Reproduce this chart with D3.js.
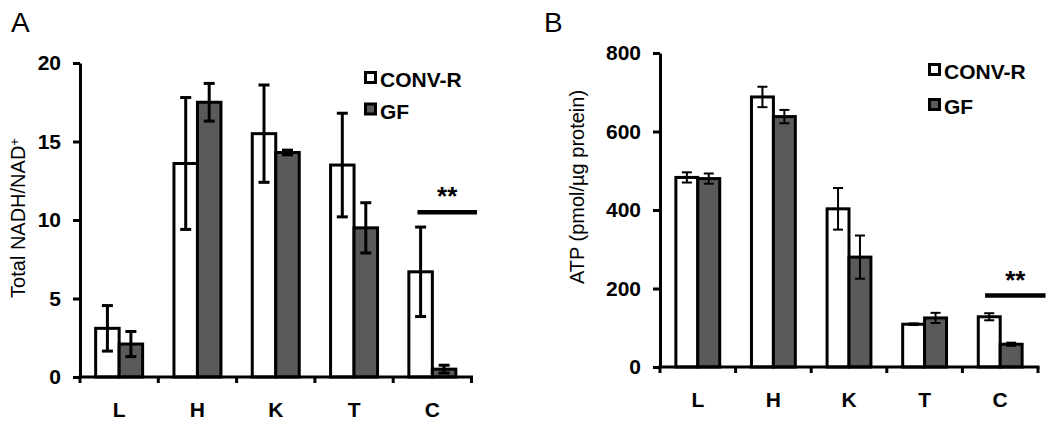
<!DOCTYPE html>
<html><head><meta charset="utf-8">
<script src="https://cdn.jsdelivr.net/npm/d3@7"></script>
<style>
html,body{margin:0;padding:0;background:#fff;}
svg{display:block;font-family:"Liberation Sans",Arial,sans-serif;}
</style></head>
<body>
<svg id="chart" width="1050" height="431"></svg>
<script>
// ---- data ----
const categories = ["L","H","K","T","C"];
const seriesNames = ["CONV-R","GF"];
const nadConv    = [3.1, 13.6, 15.5, 13.5, 6.7];
const nadConvErr = [1.45, 4.2, 3.1, 3.3, 2.85];
const nadGF      = [2.1, 17.5, 14.3, 9.5, 0.5];
const nadGFErr   = [0.8, 1.2, 0.15, 1.6, 0.25];
const atpConv    = [483, 688, 403, 109, 128];
const atpConvErr = [13, 26, 53, 2, 9];
const atpGF      = [480, 638, 280, 125, 58];
const atpGFErr   = [13, 17, 55, 13, 4];
const nadTicks = [0, 5, 10, 15, 20];
const atpTicks = [0, 200, 400, 600, 800];
const nadSigLevel = 10.5;   // level of the significance line
const atpSigLevel = 182;

const svg = d3.select("#chart");
const GREY = "#5a5a5a";

function panel(o) {
  const g = svg.append("g");
  const y = d3.scaleLinear().domain(o.domain).range([o.y0, o.y1]);
  const x = d3.scaleBand().domain(categories).range([o.x0, o.x1]).padding(0);
  const bw = x.bandwidth();
  const xs = d3.scaleBand().domain(seriesNames).range([bw * o.inner, bw * (1 - o.inner)]).padding(0);

  const rows = categories.map((c, i) => ({c, vals: [
    {s: "CONV-R", v: o.conv[i], e: o.convErr[i]},
    {s: "GF", v: o.gf[i], e: o.gfErr[i]}]}));

  const grp = g.selectAll("g.cat").data(rows).join("g")
    .attr("transform", d => `translate(${x(d.c)},0)`);

  grp.selectAll("rect").data(d => d.vals).join("rect")
    .attr("x", d => xs(d.s)).attr("width", xs.bandwidth())
    .attr("y", d => y(d.v)).attr("height", d => y(0) - y(d.v))
    .attr("fill", d => d.s === "GF" ? GREY : "#fff")
    .attr("stroke", "#000").attr("stroke-width", 3);

  const eb = grp.selectAll("g.err").data(d => d.vals).join("g")
    .attr("transform", d => `translate(${xs(d.s) + xs.bandwidth() / 2},0)`)
    .attr("stroke", "#000").attr("stroke-width", o.errW);
  eb.append("line").attr("y1", d => y(d.v + d.e)).attr("y2", d => y(d.v - d.e));
  eb.append("line").attr("x1", -o.cap / 2).attr("x2", o.cap / 2)
    .attr("y1", d => y(d.v + d.e)).attr("y2", d => y(d.v + d.e));
  eb.append("line").attr("x1", -o.cap / 2).attr("x2", o.cap / 2)
    .attr("y1", d => y(d.v - d.e)).attr("y2", d => y(d.v - d.e));

  // y axis
  const ya = g.append("g").attr("transform", `translate(${o.x0},0)`)
    .call(d3.axisLeft(y).tickValues(o.ticks).tickSize(7).tickPadding(12).tickSizeOuter(0));
  ya.select(".domain").attr("stroke", "#000").attr("stroke-width", 3);
  ya.selectAll(".tick line").attr("stroke", "#000").attr("stroke-width", 3);
  ya.selectAll(".tick text").attr("fill", "#000").style("font-size", "21px")
    .style("font-weight", "bold").style("font-family", '"Liberation Sans",Arial,sans-serif');

  // x axis line and ticks at band boundaries
  g.append("line").attr("x1", o.x0 - 1.5).attr("x2", o.x1 + 1.5)
    .attr("y1", y(0)).attr("y2", y(0)).attr("stroke", "#000").attr("stroke-width", 3);
  const bounds = categories.map(c => x(c)).concat([o.x1]);
  g.selectAll("line.xt").data(bounds).join("line")
    .attr("x1", d => d).attr("x2", d => d)
    .attr("y1", y(0)).attr("y2", y(0) + 6).attr("stroke", "#000").attr("stroke-width", 3);
  g.selectAll("text.xl").data(categories).join("text")
    .attr("x", d => x(d) + bw / 2).attr("y", y(0) + 40)
    .attr("text-anchor", "middle").style("font-size", "21px").style("font-weight", "bold")
    .text(d => d);

  // y label
  const yl = g.append("text")
    .attr("transform", `translate(${o.ylx},${o.yly}) rotate(-90)`)
    .attr("text-anchor", "middle").style("font-size", "20px");
  o.ylabel(yl);

  // panel letter
  g.append("text").attr("x", o.letterX).attr("y", 32).style("font-size", "28px").text(o.letter);

  // legend
  const lg = g.selectAll("g.lg").data(seriesNames).join("g")
    .attr("transform", (d, i) => `translate(${o.legX},${o.legY + i * o.legGap})`);
  lg.append("rect").attr("x", 1.5).attr("y", -14.5).attr("width", 10).attr("height", 10)
    .attr("fill", d => d === "GF" ? GREY : "#fff").attr("stroke", "#000").attr("stroke-width", 3);
  lg.append("text").attr("x", 16).attr("y", 0)
    .style("font-size", "21px").style("font-weight", "bold").text(d => d);

  // significance
  const sy = y(o.sigLevel);
  g.append("line").attr("x1", x("C") + bw * o.sigA).attr("x2", x("C") + bw * o.sigB)
    .attr("y1", sy).attr("y2", sy).attr("stroke", "#000").attr("stroke-width", 4.5);
  g.append("text").attr("x", x("C") + bw * (o.sigA + o.sigB) / 2).attr("y", sy - 7)
    .attr("text-anchor", "middle").style("font-size", "26px").style("font-weight", "bold").text("**");
}

panel({
  domain: [0, 20], y0: 377, y1: 63, x0: 80, x1: 471.5, inner: 0.2,
  conv: nadConv, convErr: nadConvErr, gf: nadGF, gfErr: nadGFErr,
  ticks: nadTicks, errW: 3, cap: 11,
  ylx: 25, yly: 218,
  ylabel: t => { t.append("tspan").text("Total NADH/NAD");
                 t.append("tspan").attr("dy", "-0.5em").style("font-size", "13px").text("+"); },
  letter: "A", letterX: 11,
  legX: 364, legY: 87, legGap: 31.5,
  sigLevel: nadSigLevel, sigA: 0.31, sigB: 1.07
});

panel({
  domain: [0, 800], y0: 367, y1: 53, x0: 660, x1: 1038, inner: 0.21,
  conv: atpConv, convErr: atpConvErr, gf: atpGF, gfErr: atpGFErr,
  ticks: atpTicks, errW: 2, cap: 10,
  ylx: 584, yly: 187,
  ylabel: t => t.text("ATP (pmol/µg protein)"),
  letter: "B", letterX: 544,
  legX: 928, legY: 79, legGap: 35,
  sigLevel: atpSigLevel, sigA: 0.3, sigB: 1.1
});
</script>
</body></html>
